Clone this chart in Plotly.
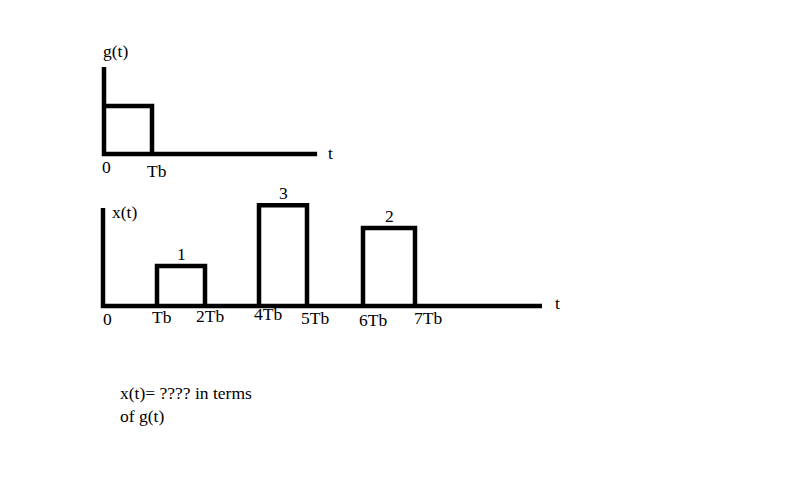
import plotly.graph_objects as go

# g(t): a single unit pulse from 0 to Tb
g_start, g_end, g_height = 0.0, 1.0, 1.0

# x(t): three pulses, edges and heights as drawn in the sketch (not to scale)
pulse_start = [1.08, 3.12, 5.2]
pulse_end = [2.04, 4.08, 6.24]
pulse_height = [1.0, 2.52, 1.95]
pulse_label = ["1", "3", "2"]

# tick labels under the x(t) axis and where the sketch puts them
tick_text = ["0", "Tb", "2Tb", "4Tb", "5Tb", "6Tb", "7Tb"]
tick_pos = [0.08, 1.18, 2.14, 3.3, 4.24, 5.4, 6.5]
tick_y = [-0.32, -0.27, -0.24, -0.2, -0.29, -0.34, -0.29]

FONT = dict(family="Liberation Serif, Times New Roman, serif", size=17.5, color="black")
LW = 4.5
BLACK = "black"
OFF = 8  # page body margin

fig = go.Figure()

# --- top panel: g(t) ---
fig.add_trace(go.Scatter(x=[0, 0, 4.44], y=[1.81, 0, 0], mode="lines",
                         line=dict(color=BLACK, width=LW), xaxis="x", yaxis="y"))
fig.add_trace(go.Scatter(x=[g_start, g_end, g_end], y=[g_height, g_height, 0], mode="lines",
                         line=dict(color=BLACK, width=LW), xaxis="x", yaxis="y"))

# --- bottom panel: x(t) ---
fig.add_trace(go.Scatter(x=[0, 0, 8.78], y=[2.45, 0, 0], mode="lines",
                         line=dict(color=BLACK, width=LW), xaxis="x2", yaxis="y2"))
for s, e, h in zip(pulse_start, pulse_end, pulse_height):
    fig.add_trace(go.Scatter(x=[s, s, e, e], y=[0, h, h, 0], mode="lines",
                             line=dict(color=BLACK, width=LW), xaxis="x2", yaxis="y2"))

ann = []
# top labels
for txt, x, y in [("g(t)", 0.23, 2.15), ("0", 0.06, -0.27), ("Tb", 1.1, -0.35), ("t", 4.71, 0.02)]:
    ann.append(dict(text=txt, x=x, y=y, xref="x", yref="y", showarrow=False, font=FONT))
# bottom labels
ann.append(dict(text="x(t)", x=0.42, y=2.35, xref="x2", yref="y2", showarrow=False, font=FONT))
ann.append(dict(text="t", x=9.08, y=0.07, xref="x2", yref="y2", showarrow=False, font=FONT))
for txt, x, y in zip(tick_text, tick_pos, tick_y):
    ann.append(dict(text=txt, x=x, y=y, xref="x2", yref="y2", showarrow=False, font=FONT))
for s, e, h, lab in zip(pulse_start, pulse_end, pulse_height, pulse_label):
    ann.append(dict(text=lab, x=(s + e) / 2, y=h + 0.3, xref="x2", yref="y2",
                    showarrow=False, font=FONT))
# question text
ann.append(dict(text="x(t)= ???? in terms<br>of g(t)", x=(118 - OFF) / 800, y=1 - (381 - OFF) / 486,
                xref="paper", yref="paper", xanchor="left", yanchor="top", align="left",
                showarrow=False, font=FONT))

hidden = dict(visible=False, showgrid=False, zeroline=False, fixedrange=True)
x0_top, y0_top = 104 - OFF, 154 - OFF
x0_bot, y0_bot = 103 - OFF, 306 - OFF
fig.update_layout(
    width=800, height=486,
    margin=dict(l=0, r=0, t=0, b=0),
    paper_bgcolor="white", plot_bgcolor="white",
    showlegend=False,
    xaxis=dict(range=[-x0_top / 48, (800 - x0_top) / 48], domain=[0, 1], anchor="y", **hidden),
    yaxis=dict(range=[-(486 - y0_top) / 48, y0_top / 48], domain=[0, 1], anchor="x", **hidden),
    xaxis2=dict(range=[-x0_bot / 50, (800 - x0_bot) / 50], domain=[0, 1], anchor="y2",
                overlaying="x", **hidden),
    yaxis2=dict(range=[-(486 - y0_bot) / 40, y0_bot / 40], domain=[0, 1], anchor="x2",
                overlaying="y", **hidden),
    annotations=ann,
)

fig.write_html("out.html")
